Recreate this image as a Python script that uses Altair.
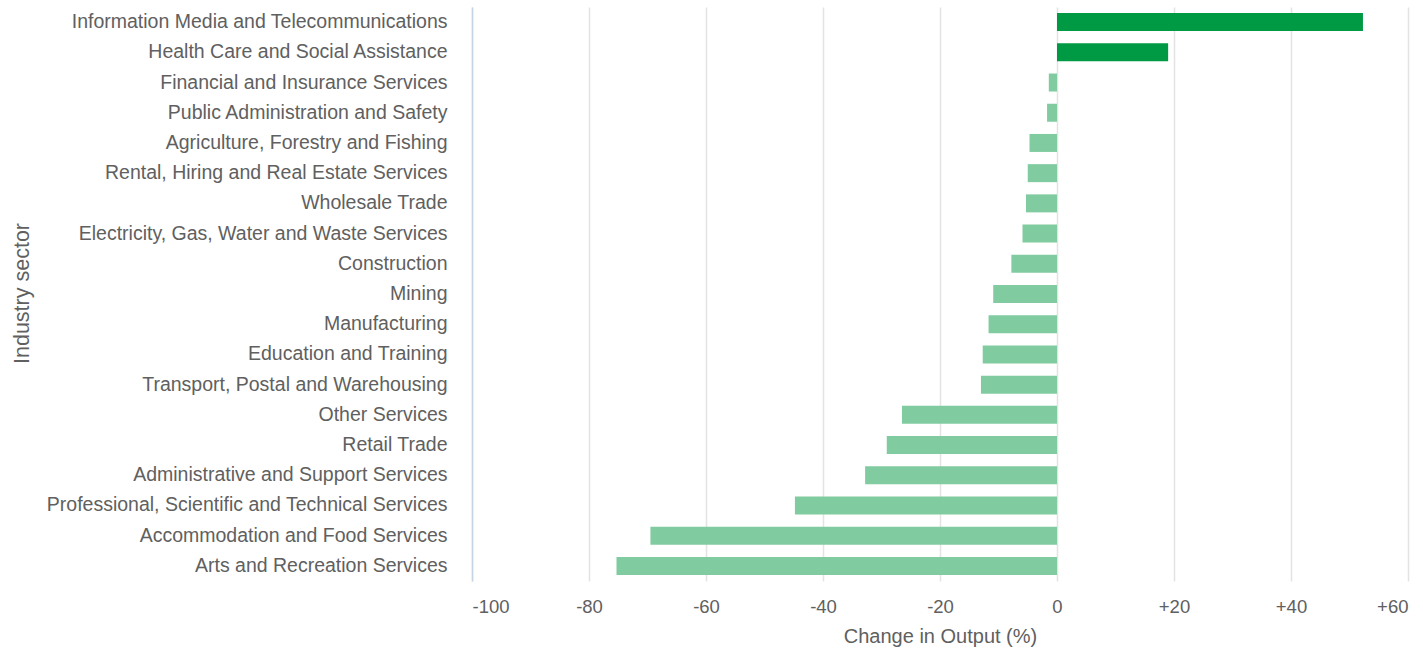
import altair as alt
import pandas as pd

sectors = [
    "Information Media and Telecommunications",
    "Health Care and Social Assistance",
    "Financial and Insurance Services",
    "Public Administration and Safety",
    "Agriculture, Forestry and Fishing",
    "Rental, Hiring and Real Estate Services",
    "Wholesale Trade",
    "Electricity, Gas, Water and Waste Services",
    "Construction",
    "Mining",
    "Manufacturing",
    "Education and Training",
    "Transport, Postal and Warehousing",
    "Other Services",
    "Retail Trade",
    "Administrative and Support Services",
    "Professional, Scientific and Technical Services",
    "Accommodation and Food Services",
    "Arts and Recreation Services",
]
changes = [52.3, 19.0, -1.4, -1.7, -4.7, -5.0, -5.3, -5.9, -7.8, -10.9, -11.7,
           -12.7, -13.0, -26.5, -29.1, -32.8, -44.8, -69.5, -75.3]
x_ticks = [-100, -80, -60, -40, -20, 0, 20, 40, 60]

df = pd.DataFrame({"sector": sectors, "change": changes})
df["sign"] = ["pos" if v > 0 else "neg" for v in changes]

chart = alt.Chart(df).mark_bar(size=18).encode(
    y=alt.Y("sector:N", sort=sectors, title="Industry sector",
            axis=alt.Axis(labelFontSize=19.5, labelColor="#606060", labelPadding=25,
                          labelLimit=0,
                          labelFont="Liberation Sans", ticks=False,
                          domainColor="#c5d3e2", domainWidth=1.5,
                          titleFontSize=21.5, titleColor="#606060", titleFont="Liberation Sans",
                          titleFontWeight="normal", titleX=-450, titleY=286,
                          titleAngle=-90, titleAlign="center", titleBaseline="middle")),
    x=alt.X("change:Q", title="Change in Output (%)",
            scale=alt.Scale(domain=[-100, 60], nice=False),
            axis=alt.Axis(values=x_ticks, domain=False, ticks=False,
                          labelExpr="datum.value > 0 ? '+' + datum.value : '' + datum.value",
                          labelFontSize=18.5, labelColor="#606060", labelPadding=16,
                          labelFont="Liberation Sans",
                          gridColor="#e3e3e3", gridWidth=1.5,
                          titleFontSize=20, titleColor="#606060", titleFont="Liberation Sans",
                          titleFontWeight="normal", titlePadding=11)),
    color=alt.Color("sign:N", scale=alt.Scale(domain=["pos", "neg"], range=["#009a44", "#80cba0"]),
                    legend=None),
).properties(
    width=936, height=574,
    autosize=alt.AutoSizeParams(type="none"),
    padding={"left": 472, "top": 7, "right": 15, "bottom": 71},
).configure_view(stroke=None).configure_axisY(grid=False)

chart.save("out.html", embed_options={"renderer": "svg", "actions": False})
